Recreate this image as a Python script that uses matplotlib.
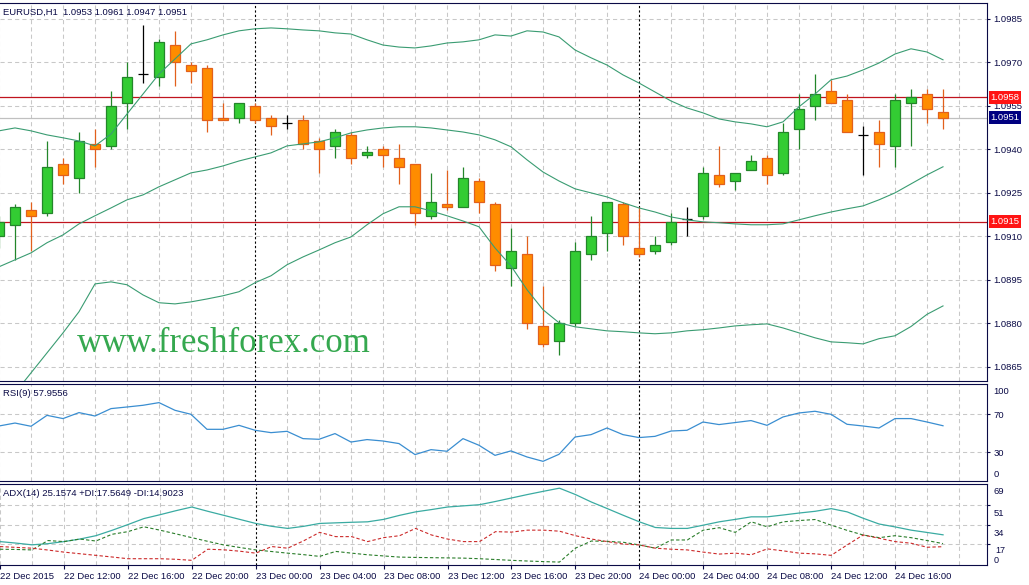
import numpy as np
import matplotlib
matplotlib.use("Agg")
import matplotlib.pyplot as plt

plt.rcParams['font.family'] = ['Liberation Sans', 'DejaVu Sans']

# EURUSD H1, 22 Dec 2015 08:00 .. 24 Dec 2015 19:00 (one candle per hour)
opens = [1.0910, 1.0914, 1.0919, 1.0918, 1.0935, 1.0930, 1.0942, 1.0941, 1.0956, 1.0966,
         1.0965, 1.0976, 1.0969, 1.0968, 1.0951, 1.0951, 1.0955, 1.0951, 1.0949, 1.0950,
         1.0943, 1.0941, 1.0945, 1.0938, 1.0940, 1.0937, 1.0935, 1.0917, 1.0921, 1.0920,
         1.0929, 1.0921, 1.0899, 1.0904, 1.0879, 1.0874, 1.0880, 1.0904, 1.0911, 1.0921,
         1.0906, 1.0905, 1.0908, 1.0916, 1.0917, 1.0931, 1.0929, 1.0933, 1.0937, 1.0932,
         1.0947, 1.0955, 1.0960, 1.0957, 1.0945, 1.0946, 1.0941, 1.0956, 1.0959, 1.0953]
highs = [1.0917, 1.0921, 1.0922, 1.0943, 1.0937, 1.0946, 1.0947, 1.0960, 1.0970, 1.0983,
         1.0978, 1.0981, 1.0970, 1.0969, 1.0956, 1.0956, 1.0956, 1.0952, 1.0952, 1.0952,
         1.0944, 1.0947, 1.0946, 1.0941, 1.0941, 1.0942, 1.0935, 1.0932, 1.0933, 1.0934,
         1.0930, 1.0922, 1.0913, 1.0910, 1.0893, 1.0881, 1.0908, 1.0917, 1.0922, 1.0922,
         1.0920, 1.0910, 1.0918, 1.0920, 1.0934, 1.0941, 1.0932, 1.0938, 1.0938, 1.0949,
         1.0959, 1.0966, 1.0964, 1.0959, 1.0948, 1.0950, 1.0959, 1.0961, 1.0961, 1.0961]
lows = [1.0906, 1.0902, 1.0905, 1.0917, 1.0928, 1.0925, 1.0934, 1.0940, 1.0947, 1.0963,
        1.0962, 1.0962, 1.0963, 1.0946, 1.0950, 1.0949, 1.0949, 1.0945, 1.0947, 1.0940,
        1.0932, 1.0937, 1.0935, 1.0937, 1.0934, 1.0928, 1.0914, 1.0916, 1.0919, 1.0920,
        1.0918, 1.0898, 1.0893, 1.0878, 1.0872, 1.0869, 1.0879, 1.0902, 1.0905, 1.0907,
        1.0903, 1.0904, 1.0907, 1.0910, 1.0916, 1.0927, 1.0926, 1.0933, 1.0928, 1.0931,
        1.0940, 1.0950, 1.0956, 1.0946, 1.0931, 1.0934, 1.0934, 1.0941, 1.0949, 1.0947]
closes = [1.0915, 1.0920, 1.0917, 1.0934, 1.0931, 1.0943, 1.0940, 1.0955, 1.0965, 1.0966,
          1.0977, 1.0970, 1.0967, 1.0950, 1.0950, 1.0956, 1.0950, 1.0948, 1.0949, 1.0942,
          1.0940, 1.0946, 1.0937, 1.0939, 1.0938, 1.0934, 1.0918, 1.0922, 1.0920, 1.0930,
          1.0922, 1.0900, 1.0905, 1.0880, 1.0873, 1.0880, 1.0905, 1.0910, 1.0922, 1.0910,
          1.0904, 1.0907, 1.0915, 1.0916, 1.0932, 1.0928, 1.0932, 1.0936, 1.0931, 1.0946,
          1.0954, 1.0959, 1.0956, 1.0946, 1.0945, 1.0942, 1.0957, 1.0958, 1.0954, 1.0951]

bb_upper = [1.09464, 1.09474, 1.09464, 1.09450, 1.09440, 1.09429, 1.09412, 1.09453, 1.09522, 1.09591,
            1.09660, 1.09712, 1.09764, 1.09778, 1.09795, 1.09809, 1.09816, 1.09819, 1.09816, 1.09812,
            1.09809, 1.09802, 1.09798, 1.09778, 1.09760, 1.09753, 1.09750, 1.09757, 1.09767, 1.09771,
            1.09778, 1.09795, 1.09791, 1.09809, 1.09805, 1.09788, 1.09743, 1.09716, 1.09691, 1.09657,
            1.09629, 1.09598, 1.09567, 1.09543, 1.09526, 1.09505, 1.09495, 1.09488, 1.09478, 1.09495,
            1.09547, 1.09591, 1.09640, 1.09653, 1.09674, 1.09698, 1.09729, 1.09747, 1.09736, 1.09709]
bb_middle = [1.08995, 1.09019, 1.09043, 1.09078, 1.09105, 1.09143, 1.09171, 1.09198, 1.09226, 1.09243,
             1.09271, 1.09295, 1.09319, 1.09329, 1.09343, 1.09360, 1.09374, 1.09388, 1.09412, 1.09419,
             1.09426, 1.09440, 1.09457, 1.09467, 1.09474, 1.09478, 1.09478, 1.09474, 1.09467, 1.09460,
             1.09450, 1.09433, 1.09409, 1.09364, 1.09322, 1.09291, 1.09264, 1.09250, 1.09236, 1.09216,
             1.09198, 1.09184, 1.09167, 1.09157, 1.09150, 1.09147, 1.09143, 1.09140, 1.09140, 1.09143,
             1.09157, 1.09171, 1.09184, 1.09195, 1.09205, 1.09226, 1.09250, 1.09281, 1.09312, 1.09340]
bb_lower = [1.08490, 1.08560, 1.08629, 1.08698, 1.08767, 1.08840, 1.08936, 1.08943, 1.08933, 1.08898,
            1.08871, 1.08867, 1.08874, 1.08884, 1.08895, 1.08909, 1.08940, 1.08964, 1.09002, 1.09029,
            1.09053, 1.09078, 1.09098, 1.09140, 1.09178, 1.09202, 1.09202, 1.09188, 1.09171, 1.09153,
            1.09133, 1.09060, 1.08998, 1.08916, 1.08847, 1.08802, 1.08788, 1.08781, 1.08774, 1.08771,
            1.08767, 1.08764, 1.08767, 1.08774, 1.08778, 1.08784, 1.08791, 1.08795, 1.08798, 1.08784,
            1.08767, 1.08750, 1.08736, 1.08733, 1.08729, 1.08747, 1.08757, 1.08789, 1.08831, 1.08860]

rsi = [57.7, 60.8, 57.4, 68.9, 65.5, 71.8, 68.2, 76.0, 77.7, 79.5,
       82.3, 74.2, 70.0, 54.2, 54.2, 58.4, 53.2, 50.7, 52.1, 44.4,
       43.7, 49.7, 40.8, 43.4, 41.9, 39.2, 27.6, 32.8, 31.1, 44.4,
       37.4, 26.8, 31.5, 25.1, 20.5, 27.9, 46.1, 48.6, 55.6, 48.6,
       45.5, 46.8, 52.4, 53.2, 61.9, 59.2, 61.3, 63.4, 58.4, 67.2,
       71.4, 73.2, 70.0, 59.5, 57.7, 55.6, 65.5, 65.5, 61.9, 57.96]

adx = [19.3, 18.0, 16.5, 17.5, 19.3, 21.5, 24.4, 29.0, 34.0, 39.2,
       42.5, 46.0, 49.2, 45.5, 42.0, 38.5, 35.0, 32.5, 30.7, 32.5,
       35.0, 35.5, 36.0, 36.4, 38.5, 42.0, 45.0, 47.0, 49.2, 50.2,
       51.2, 54.0, 57.0, 60.0, 62.8, 65.5, 60.0, 53.5, 47.8, 42.0,
       36.4, 31.5, 30.7, 30.7, 33.5, 36.4, 38.5, 40.7, 40.7, 42.3,
       44.0, 45.5, 47.8, 45.0, 39.5, 34.5, 32.0, 29.2, 27.2, 25.16]
plus_di = [12.7, 12.5, 12.1, 20.2, 19.3, 21.5, 19.8, 25.6, 27.9, 32.1,
           29.2, 26.0, 22.7, 19.5, 16.4, 14.2, 12.1, 10.7, 9.3, 8.0,
           6.5, 10.8, 9.3, 7.9, 6.9, 5.9, 5.6, 5.4, 5.2, 5.0,
           4.5, 3.8, 3.1, 2.5, 2.0, 1.6, 13.6, 19.8, 19.5, 18.7,
           16.4, 13.6, 20.7, 20.7, 29.2, 31.3, 27.3, 36.4, 32.1, 36.4,
           37.5, 38.4, 33.5, 29.0, 25.0, 22.7, 24.4, 22.7, 20.2, 17.56]
minus_di = [15.0, 14.3, 13.6, 12.0, 10.2, 8.8, 7.4, 6.0, 4.5, 4.5,
            4.5, 4.0, 3.1, 12.7, 12.2, 11.0, 9.3, 15.0, 13.6, 20.0,
            27.3, 23.6, 23.6, 19.3, 22.7, 24.4, 30.7, 25.0, 21.5, 19.3,
            19.3, 27.9, 27.5, 29.2, 29.2, 28.3, 24.4, 21.5, 19.3, 17.2,
            16.4, 13.6, 12.7, 12.1, 10.2, 8.5, 9.3, 7.9, 13.0, 11.3,
            9.3, 8.7, 7.4, 16.4, 25.0, 22.2, 19.3, 17.9, 14.4, 14.9]

time_labels = ["22 Dec 2015", "22 Dec 12:00", "22 Dec 16:00", "22 Dec 20:00",
               "23 Dec 00:00", "23 Dec 04:00", "23 Dec 08:00", "23 Dec 12:00",
               "23 Dec 16:00", "23 Dec 20:00", "24 Dec 00:00", "24 Dec 04:00",
               "24 Dec 08:00", "24 Dec 12:00", "24 Dec 16:00"]
label_pos = list(range(0, 57, 4))
day_breaks = [16, 40]
price_ticks = [1.0865, 1.0880, 1.0895, 1.0910, 1.0925, 1.0940, 1.0955, 1.0970, 1.0985]
level_lines = [1.0958, 1.0915]
last_price = 1.0951

NAVY = "#0a0a46"
GRID = "#c8c8c8"
FS = 6.8
W, H = 1029, 585

fig = plt.figure(figsize=(W / 100, H / 100), dpi=100)
fig.patch.set_facecolor("white")


def panel(top, bottom):
    ax = fig.add_axes([0, 1 - bottom / H, 987 / W, (bottom - top) / H])
    for s in ["top", "bottom", "right"]:
        ax.spines[s].set_color(NAVY)
        ax.spines[s].set_linewidth(0.8)
    ax.spines["left"].set_visible(False)
    ax.set_xlim(0.0625, 61.75)
    ax.yaxis.tick_right()
    ax.tick_params(axis="y", direction="out", length=2.5, width=0.8, color=NAVY,
                   labelcolor=NAVY, labelsize=FS, pad=2)
    # vertical grid every 2 hours, dashed day separators
    for i in range(0, 62, 2):
        if i in day_breaks:
            ax.axvline(i, color="black", lw=0.8, ls=(0, (2, 2)), zorder=1)
        else:
            ax.axvline(i, color=GRID, lw=0.75, ls=(0, (4, 3)), zorder=0.5)
    return ax


ax = panel(3, 381)
ax_rsi = panel(384, 481)
ax_adx = panel(484, 565)

idx = np.arange(len(opens))
o = np.array(opens)
h = np.array(highs)
l = np.array(lows)
c = np.array(closes)

# ---- main price panel
ax.set_ylim(1.08601, 1.09905)
ax.set_yticks(price_ticks)
ax.set_yticklabels([f"{p:.4f}" for p in price_ticks])
for p in price_ticks:
    ax.axhline(p, color=GRID, lw=0.75, ls=(0, (4, 3)), zorder=0.5)
ax.set_xticks([])

ax.axhline(last_price, color="#c0c0c0", lw=0.9, zorder=1)
for lv in level_lines:
    ax.axhline(lv, color="#c0141e", lw=0.9, zorder=1)

bw = 0.64
bull = c > o
bear = c < o
doji = c == o
ax.vlines(idx[bull], l[bull], h[bull], color="#23862a", lw=0.9, zorder=2)
ax.bar(idx[bull], (c - o)[bull], bottom=o[bull], width=bw, color="#33cc33",
       edgecolor="#23862a", linewidth=0.9, zorder=3)
ax.vlines(idx[bear], l[bear], h[bear], color="#e2601c", lw=0.9, zorder=2)
ax.bar(idx[bear], (o - c)[bear], bottom=c[bear], width=bw, color="#ff8c00",
       edgecolor="#e2601c", linewidth=0.9, zorder=3)
ax.vlines(idx[doji], l[doji], h[doji], color="black", lw=0.9, zorder=3)
ax.hlines(o[doji], idx[doji] - bw / 2, idx[doji] + bw / 2, color="black", lw=0.9, zorder=3)

for band in (bb_upper, bb_middle, bb_lower):
    ax.plot(idx, band, color="#3a9c72", lw=0.8, zorder=4)

tr = ax.get_yaxis_transform()
for lv in level_lines:
    ax.text(1.0035, lv, f"{lv:.4f}", transform=tr, ha="left", va="center", fontsize=FS,
            color="white", zorder=10, clip_on=False,
            bbox=dict(boxstyle="square,pad=0.2", fc="#ff1414", ec="none"))
ax.text(1.0035, last_price, f"{last_price:.4f}", transform=tr, ha="left", va="center",
        fontsize=FS, color="white", zorder=10, clip_on=False,
        bbox=dict(boxstyle="square,pad=0.2", fc="#000080", ec="none"))

fig.text(3 / W, 1 - 12 / H, "EURUSD,H1  1.0953 1.0961 1.0947 1.0951", fontsize=FS,
         color=NAVY, va="center", ha="left")
fig.text(77 / W, 1 - 352 / H, "www.freshforex.com", family="Liberation Serif",
         fontsize=25, color="#35a84f", va="baseline", ha="left")

# ---- RSI panel
ax_rsi.set_ylim(-0.2, 101.9)
ax_rsi.set_xticks([])
ax_rsi.set_yticks([70, 30])
ax_rsi.set_yticklabels(["70", "30"])
for lv in (70, 30):
    ax_rsi.axhline(lv, color=GRID, lw=0.75, ls=(0, (4, 3)), zorder=0.5)
ax_rsi.plot(idx, rsi, color="#3a8ed1", lw=0.9, zorder=3)
trr = ax_rsi.get_yaxis_transform()
ax_rsi.text(1.0065, 93.8, "100", transform=trr, fontsize=FS, color=NAVY, va="center", ha="left")
ax_rsi.text(1.0065, 6.8, "0", transform=trr, fontsize=FS, color=NAVY, va="center", ha="left")
fig.text(3 / W, 1 - 393 / H, "RSI(9) 57.9556", fontsize=FS, color=NAVY, va="center", ha="left")

# ---- ADX panel
ax_adx.set_ylim(-0.94, 69.1)
ax_adx.set_yticks([51, 34, 17])
ax_adx.set_yticklabels([])
for lv in (51, 34, 17):
    ax_adx.axhline(lv, color=GRID, lw=0.75, ls=(0, (4, 3)), zorder=0.5)
ax_adx.plot(idx, adx, color="#3aaba2", lw=0.9, zorder=3)
ax_adx.plot(idx, plus_di, color="#2a7d2a", lw=0.8, ls=(0, (3, 2)), zorder=3)
ax_adx.plot(idx, minus_di, color="#cc2a2a", lw=0.8, ls=(0, (3, 2)), zorder=3)
tra = ax_adx.get_yaxis_transform()
for txt, v, dx in [("69", 62.6, 0), ("51", 43.8, 0), ("34", 26.7, 0), ("17", 11.4, 0.002),
                   ("0", 2.6, 0)]:
    ax_adx.text(1.0065 + dx, v, txt, transform=tra, fontsize=FS - 0.3 if txt in ("17", "0") else FS,
                color=NAVY, va="center", ha="left")
fig.text(3 / W, 1 - 493 / H, "ADX(14) 25.1574 +DI:17.5649 -DI:14.9023", fontsize=FS,
         color=NAVY, va="center", ha="left")

ax_adx.set_xticks(label_pos)
ax_adx.set_xticklabels(time_labels)
ax_adx.tick_params(axis="x", direction="out", length=3, width=0.8, color=NAVY,
                   labelcolor=NAVY, labelsize=FS, pad=2)
for t in ax_adx.get_xticklabels():
    t.set_ha("left")

fig.savefig("out.png", dpi=100)
